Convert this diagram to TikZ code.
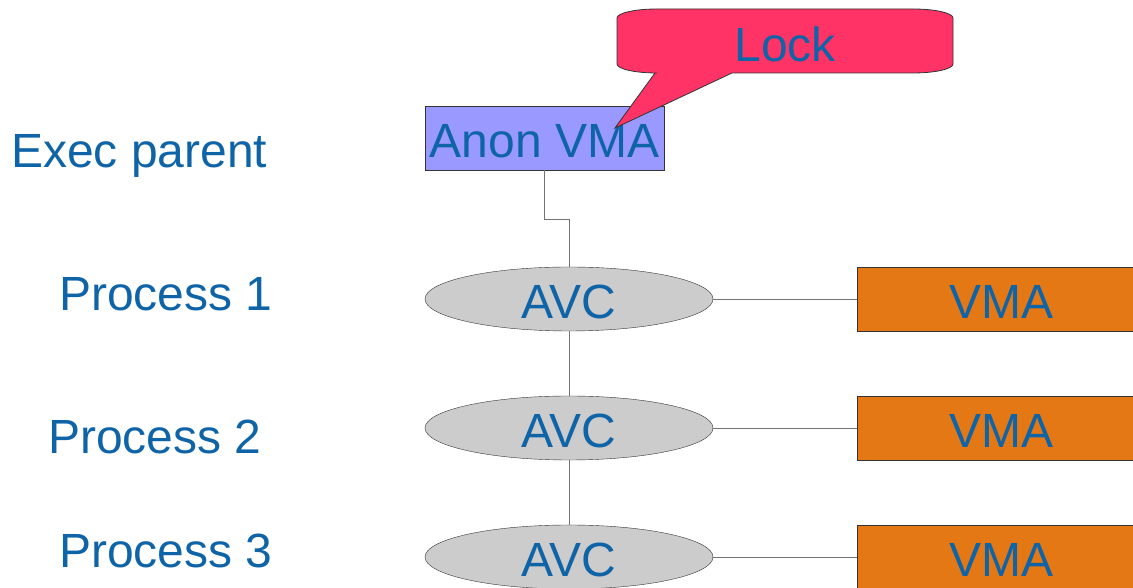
\documentclass[tikz,border=0pt]{standalone}
\usepackage{fontspec}
\setmainfont{Liberation Sans}
\usetikzlibrary{shapes.geometric}

\definecolor{txtblue}{HTML}{0F64A8}
\definecolor{anonblue}{HTML}{9999FF}
\definecolor{lockred}{HTML}{FF3366}
\definecolor{avcgray}{HTML}{CCCCCC}
\definecolor{vmaorange}{HTML}{E47814}

\tikzset{
  every node/.style={text=txtblue, font=\fontsize{48}{58}\selectfont},
  lbl/.style={anchor=base west, inner sep=0pt},
  avc/.style={ellipse, draw=black!80, fill=avcgray, minimum width=288pt, minimum height=64pt, inner sep=0pt, text height=40pt, text depth=0pt},
  vma/.style={rectangle, draw=black!80, fill=vmaorange, minimum width=288pt, minimum height=64pt, inner sep=0pt, text height=40pt, text depth=0pt},
  link/.style={draw=black!55, line width=0.9pt},
}

\begin{document}
\begin{tikzpicture}[x=1pt,y=1pt]
    \useasboundingbox (0,0) rectangle (1133,588);
    \clip (0,0) rectangle (1133,588);

    \node[lbl] (exec) at (11,420) {Exec parent};
    \node[lbl] (p1) at (59,277) {Process 1};
    \node[lbl] (p2) at (48,134) {Process 2};
    \node[lbl] (p3) at (59,20) {Process 3};

    \node[draw=black!80, fill=anonblue, minimum width=239pt, minimum height=64pt, inner sep=0pt, text height=40pt, text depth=0pt] (anon) at (544.5,450) {Anon VMA};

    \node[avc] (avc1) at (569,289) {AVC};
    \node[avc] (avc2) at (569,160) {AVC};
    \node[avc] (avc3) at (569,31) {AVC};

    \node[vma] (vma1) at (1001,289) {VMA};
    \node[vma] (vma2) at (1001,160) {VMA};
    \node[vma] (vma3) at (1001,31) {VMA};

    \coordinate (bend) at (569,369);
    \draw[link] (anon.south) |- (bend) -- (avc1);
    \draw[link] (avc1) -- (avc2) -- (avc3);
    \draw[link] (avc1) -- (vma1);
    \draw[link] (avc2) -- (vma2);
    \draw[link] (avc3) -- (vma3);

    % callout over the anon box
    \coordinate (tip) at (615,460);
    \filldraw[fill=lockred, draw=black!80, line width=0.8pt]
      (655,515) -- (tip) -- (732,515) -- (913,515)
      arc[start angle=270, end angle=360, x radius=40, y radius=9] -- (953,570)
      arc[start angle=0, end angle=90, x radius=40, y radius=9] -- (657,579)
      arc[start angle=90, end angle=180, x radius=40, y radius=9] -- (617,524)
      arc[start angle=180, end angle=270, x radius=40, y radius=9] -- cycle;
    \node (lock) at (785,544) {Lock};
\end{tikzpicture}
\end{document}
